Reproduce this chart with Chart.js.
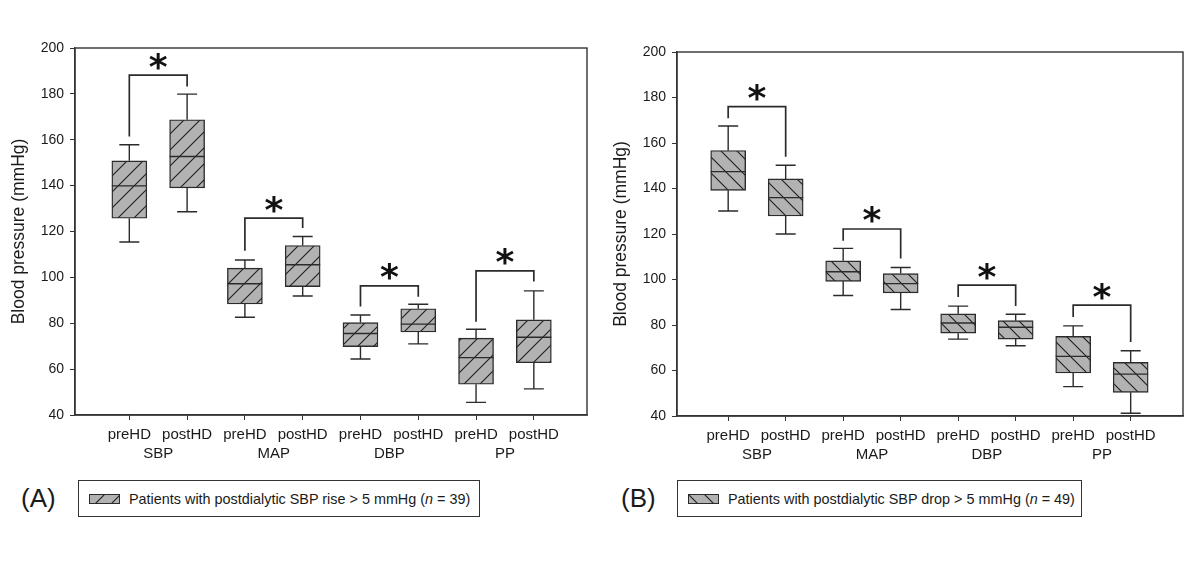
<!DOCTYPE html>
<html>
<head>
<meta charset="utf-8">
<script src="https://cdn.jsdelivr.net/npm/chart.js@4.4.1/dist/chart.umd.min.js"></script>
<style>
body { margin: 0; background: #fff; width: 1200px; height: 565px; position: relative; overflow: hidden;
       font-family: "Liberation Sans", Arial, sans-serif; color: #1a1a1a; }
.panel { position: absolute; top: 0; }
.tag { position: absolute; top: 482px; font-size: 26px; line-height: 32px; }
.legend { position: absolute; top: 480px; height: 37px; box-sizing: border-box; border: 1px solid #333;
          display: flex; align-items: center; font-size: 14.4px; white-space: nowrap; }
.legend canvas { margin: 0 9px 0 10px; }
</style>
</head>
<body>
<div class="panel" style="left:0"><canvas id="chartRise" width="600" height="470"></canvas></div>
<div class="panel" style="left:602px"><canvas id="chartDrop" width="598" height="470"></canvas></div>

<div class="tag" style="left:21px">(A)</div>
<div class="legend" style="left:78px;width:402px">
  <canvas id="swatchRise" width="31" height="10"></canvas>
  <span>Patients with postdialytic SBP rise &gt; 5 mmHg (<i>n</i> = 39)</span>
</div>
<div class="tag" style="left:621px">(B)</div>
<div class="legend" style="left:677px;width:405px">
  <canvas id="swatchDrop" width="31" height="10"></canvas>
  <span>Patients with postdialytic SBP drop &gt; 5 mmHg (<i>n</i> = 49)</span>
</div>

<script>
// x positions of the boxes and their labels
var positions = [1, 2, 3, 4, 5, 6, 7, 8];
var tickLabels = ["preHD", "postHD", "preHD", "postHD", "preHD", "postHD", "preHD", "postHD"];
var groupPositions = [1.5, 3.5, 5.5, 7.5];
var groupLabels = ["SBP", "MAP", "DBP", "PP"];

// (A) postdialytic SBP rise: whisker low, q1, median, q3, whisker high
var riseLow = [115.4, 128.6, 82.6, 91.9, 64.4, 71.0, 45.5, 51.4];
var riseQ1 = [125.8, 139.0, 88.4, 96.0, 69.8, 76.2, 53.4, 62.8];
var riseMedian = [139.9, 152.7, 97.2, 105.5, 75.5, 79.6, 65.0, 73.9];
var riseQ3 = [150.8, 168.7, 104.0, 113.9, 80.3, 86.3, 73.5, 81.5];
var riseHigh = [157.8, 179.9, 107.6, 117.8, 83.6, 88.3, 77.4, 94.1];
// significance brackets (top, left leg end, right leg end)
var riseBracketTop = [188.2, 125.8, 96.3, 102.8];
var riseBracketLeft = [161.4, 111.6, 87.3, 80.7];
var riseBracketRight = [183.2, 121.5, 91.6, 98.2];

// (B) postdialytic SBP drop
var dropLow = [130.1, 120.0, 93.0, 86.8, 73.8, 70.9, 52.9, 41.2];
var dropQ1 = [139.2, 127.9, 99.2, 94.1, 76.4, 73.8, 58.9, 50.4];
var dropMedian = [147.4, 136.0, 103.4, 98.2, 80.9, 79.0, 66.2, 58.4];
var dropQ3 = [156.7, 144.2, 108.2, 102.6, 84.9, 81.9, 75.0, 63.6];
var dropHigh = [167.5, 150.2, 113.7, 105.3, 88.3, 84.7, 79.6, 68.7];
var dropBracketTop = [176.0, 122.2, 97.5, 88.7];
var dropBracketLeft = [170.9, 117.0, 92.3, 83.5];
var dropBracketRight = [154.0, 109.2, 88.4, 72.5];

var FONT = '"Liberation Sans", Arial, sans-serif';
var INK = '#2b2b2b';

// diagonal hatch, dir 1 = "/" and -1 = "\"
function makeHatch(ctx, dir) {
    var s = 16;
    var c = document.createElement('canvas');
    c.width = s; c.height = s;
    var g = c.getContext('2d');
    g.fillStyle = '#b2b2b2';
    g.fillRect(0, 0, s, s);
    g.strokeStyle = '#1e1e1e';
    g.lineWidth = 1.1;
    g.beginPath();
    if (dir > 0) {
        g.moveTo(-2, s + 2); g.lineTo(s + 2, -2);
        g.moveTo(-2, 2); g.lineTo(2, -2);
        g.moveTo(s - 2, s + 2); g.lineTo(s + 2, s - 2);
    } else {
        g.moveTo(-2, -2); g.lineTo(s + 2, s + 2);
        g.moveTo(-2, s - 2); g.lineTo(2, s + 2);
        g.moveTo(s - 2, -2); g.lineTo(s + 2, 2);
    }
    g.stroke();
    return ctx.createPattern(c, 'repeat');
}

function drawSwatch(id, dir) {
    var cv = document.getElementById(id);
    var g = cv.getContext('2d');
    g.fillStyle = makeHatch(g, dir);
    g.fillRect(0, 0, cv.width, cv.height);
    g.strokeStyle = INK;
    g.lineWidth = 1;
    g.strokeRect(0.5, 0.5, cv.width - 1, cv.height - 1);
}

// whiskers, medians, brackets, asterisks and the plot frame
function makeBoxPlugin(cfg) {
    return {
        id: 'boxExtras',
        afterDatasetsDraw: function (chart) {
            var ctx = chart.ctx;
            var xs = chart.scales.x, ys = chart.scales.y, area = chart.chartArea;
            var bars = chart.getDatasetMeta(0).data;
            ctx.save();
            ctx.strokeStyle = INK;
            ctx.lineWidth = 1.4;
            ctx.beginPath();
            for (var i = 0; i < positions.length; i++) {
                var px = bars[i].x, half = bars[i].width / 2, cap = 10;
                var yLow = ys.getPixelForValue(cfg.low[i]);
                var yHigh = ys.getPixelForValue(cfg.high[i]);
                var yQ1 = ys.getPixelForValue(cfg.q1[i]);
                var yQ3 = ys.getPixelForValue(cfg.q3[i]);
                var yMed = ys.getPixelForValue(cfg.median[i]);
                ctx.moveTo(px, yQ1); ctx.lineTo(px, yLow);
                ctx.moveTo(px - cap, yLow); ctx.lineTo(px + cap, yLow);
                ctx.moveTo(px, yQ3); ctx.lineTo(px, yHigh);
                ctx.moveTo(px - cap, yHigh); ctx.lineTo(px + cap, yHigh);
                ctx.moveTo(px - half, yMed); ctx.lineTo(px + half, yMed);
            }
            ctx.stroke();

            ctx.lineWidth = 1.7;
            ctx.beginPath();
            var stars = [];
            for (var j = 0; j < groupLabels.length; j++) {
                var xl = xs.getPixelForValue(positions[2 * j]);
                var xr = xs.getPixelForValue(positions[2 * j + 1]);
                var yt = ys.getPixelForValue(cfg.bracketTop[j]);
                ctx.moveTo(xl, ys.getPixelForValue(cfg.bracketLeft[j]));
                ctx.lineTo(xl, yt);
                ctx.lineTo(xr, yt);
                ctx.lineTo(xr, ys.getPixelForValue(cfg.bracketRight[j]));
                stars.push([(xl + xr) / 2, yt - 14]);
            }
            ctx.stroke();

            ctx.lineWidth = 1.4;
            ctx.strokeStyle = '#333';
            ctx.strokeRect(area.left, area.top, area.width, area.height);

            ctx.fillStyle = '#111';
            ctx.font = 'bold 36px "DejaVu Sans", sans-serif';
            ctx.textAlign = 'center';
            ctx.textBaseline = 'alphabetic';
            var m = ctx.measureText('*');
            var shift = (m.actualBoundingBoxAscent - m.actualBoundingBoxDescent) / 2;
            for (var k = 0; k < stars.length; k++) {
                ctx.fillText('*', stars[k][0], stars[k][1] + shift);
            }
            ctx.restore();
        }
    };
}

function makeBoxChart(id, cfg) {
    var ctx = document.getElementById(id);
    var boxes = [];
    for (var i = 0; i < positions.length; i++) {
        boxes.push({ x: positions[i], y: [cfg.q1[i], cfg.q3[i]] });
    }
    var xFont = { family: FONT, size: 15 };
    return new Chart(ctx, {
        type: 'bar',
        data: {
            datasets: [{
                data: boxes,
                backgroundColor: makeHatch(ctx.getContext('2d'), cfg.hatch),
                borderColor: INK,
                borderWidth: 1.4,
                borderSkipped: false,
                barThickness: 35
            }]
        },
        options: {
            responsive: false,
            animation: false,
            layout: { padding: cfg.padding },
            plugins: { legend: { display: false }, tooltip: { enabled: false } },
            scales: {
                x: {
                    type: 'linear', min: cfg.xMin, max: cfg.xMax, offset: false, weight: 0,
                    grid: { offset: false, drawOnChartArea: false, tickLength: 5, color: '#333' },
                    border: { color: '#333', width: 1.4 },
                    afterBuildTicks: function (s) { s.ticks = positions.map(function (v) { return { value: v }; }); },
                    afterFit: function (s) { s.height = 29; },
                    ticks: {
                        autoSkip: false, maxRotation: 0, padding: 6, color: '#1a1a1a', font: xFont,
                        callback: function (v, i) { return tickLabels[i]; }
                    }
                },
                x2: {
                    type: 'linear', position: 'bottom', min: cfg.xMin, max: cfg.xMax, offset: false, weight: 1,
                    grid: { display: false, drawTicks: false },
                    border: { display: false },
                    afterBuildTicks: function (s) { s.ticks = groupPositions.map(function (v) { return { value: v }; }); },
                    afterFit: function (s) { s.height = 22; },
                    ticks: {
                        autoSkip: false, maxRotation: 0, padding: 1, color: '#1a1a1a', font: xFont,
                        callback: function (v, i) { return groupLabels[i]; }
                    }
                },
                y: {
                    min: 40, max: 200,
                    grid: { drawOnChartArea: false, tickLength: 5, color: '#333' },
                    border: { color: '#333', width: 1.4 },
                    afterFit: function (s) { s.width = 75; },
                    ticks: { stepSize: 20, padding: 6, color: '#1a1a1a', font: { family: FONT, size: 14 } },
                    title: {
                        display: true, text: 'Blood pressure (mmHg)', color: '#1a1a1a',
                        font: { family: FONT, size: 17.5 }, padding: { top: 9, bottom: 0 }
                    }
                }
            }
        },
        plugins: [makeBoxPlugin(cfg)]
    });
}

makeBoxChart('chartRise', {
    low: riseLow, q1: riseQ1, median: riseMedian, q3: riseQ3, high: riseHigh,
    bracketTop: riseBracketTop, bracketLeft: riseBracketLeft, bracketRight: riseBracketRight,
    hatch: 1, xMin: 0.06, xMax: 8.92,
    padding: { top: 48, left: 0, right: 13, bottom: 4 }
});
makeBoxChart('chartDrop', {
    low: dropLow, q1: dropQ1, median: dropMedian, q3: dropQ3, high: dropHigh,
    bracketTop: dropBracketTop, bracketLeft: dropBracketLeft, bracketRight: dropBracketRight,
    hatch: -1, xMin: 0.11, xMax: 8.91,
    padding: { top: 52, left: 0, right: 17, bottom: 3 }
});
drawSwatch('swatchRise', 1);
drawSwatch('swatchDrop', -1);
</script>
</body>
</html>
